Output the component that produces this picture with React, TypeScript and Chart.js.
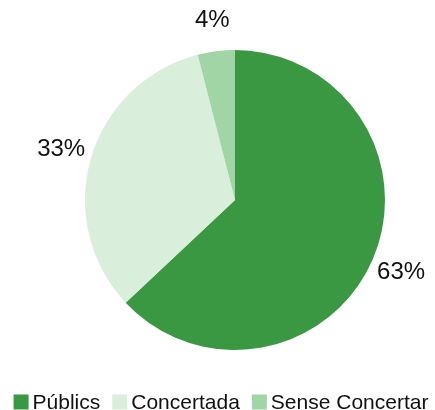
import React, { useEffect, useRef } from "react";
import { Chart, registerables } from "chart.js";

Chart.register(...registerables);

const categories = ["Públics", "Concertada", "Sense Concertar"];
const values = [63, 33, 4];
const labels = ["63%", "33%", "4%"];
const colors = ["#3a9843", "#d9eedb", "#a1d5a5"];

const FONT = "'Liberation Sans', Arial, sans-serif";

const outsideLabels = {
  id: "outsideLabels",
  afterDatasetsDraw(chart: any) {
    const ctx = chart.ctx;
    const meta = chart.getDatasetMeta(0);
    ctx.save();
    ctx.font = `24px ${FONT}`;
    ctx.fillStyle = "#111";
    ctx.textAlign = "center";
    ctx.textBaseline = "middle";
    meta.data.forEach((arc: any, i: number) => {
      const { x, y, startAngle, endAngle, outerRadius } = arc.getProps(
        ["x", "y", "startAngle", "endAngle", "outerRadius"],
        true
      );
      const mid = (startAngle + endAngle) / 2;
      const r = outerRadius + 31;
      ctx.fillText(labels[i], x + Math.cos(mid) * r, y + Math.sin(mid) * r);
    });
    ctx.restore();
  },
};

const customLegend = {
  id: "customLegend",
  afterDraw(chart: any) {
    const ctx = chart.ctx;
    ctx.save();
    ctx.font = `21px ${FONT}`;
    ctx.textBaseline = "middle";
    ctx.textAlign = "left";
    const box = 15;
    const gap = 4;
    const itemGap = 12;
    const widths = categories.map((c) => box + gap + ctx.measureText(c).width);
    const total = widths.reduce((a, b) => a + b, 0) + itemGap * (categories.length - 1);
    let x = 221 - total / 2;
    const y = 402;
    categories.forEach((c, i) => {
      ctx.fillStyle = colors[i];
      ctx.fillRect(x, y - box / 2, box, box);
      ctx.fillStyle = "#111";
      ctx.fillText(c, x + box + gap, y + 1);
      x += widths[i] + itemGap;
    });
    ctx.restore();
  },
};

export default function App() {
  const ref = useRef<HTMLCanvasElement>(null);
  useEffect(() => {
    const chart = new Chart(ref.current!, {
      type: "pie",
      data: {
        labels: categories,
        datasets: [
          {
            data: values,
            backgroundColor: colors,
            borderWidth: 0,
          },
        ],
      },
      options: {
        animation: false,
        responsive: false,
        layout: { padding: { top: 50, left: 85, right: 50, bottom: 60 } },
        plugins: {
          tooltip: { enabled: false },
          legend: { display: false },
        },
      },
      plugins: [outsideLabels, customLegend],
    });
    return () => chart.destroy();
  }, []);
  return (
    <div style={{ position: "fixed", left: 0, top: 0, width: 435, height: 410, background: "#fff" }}>
      <canvas ref={ref} width={435} height={410} />
    </div>
  );
}
